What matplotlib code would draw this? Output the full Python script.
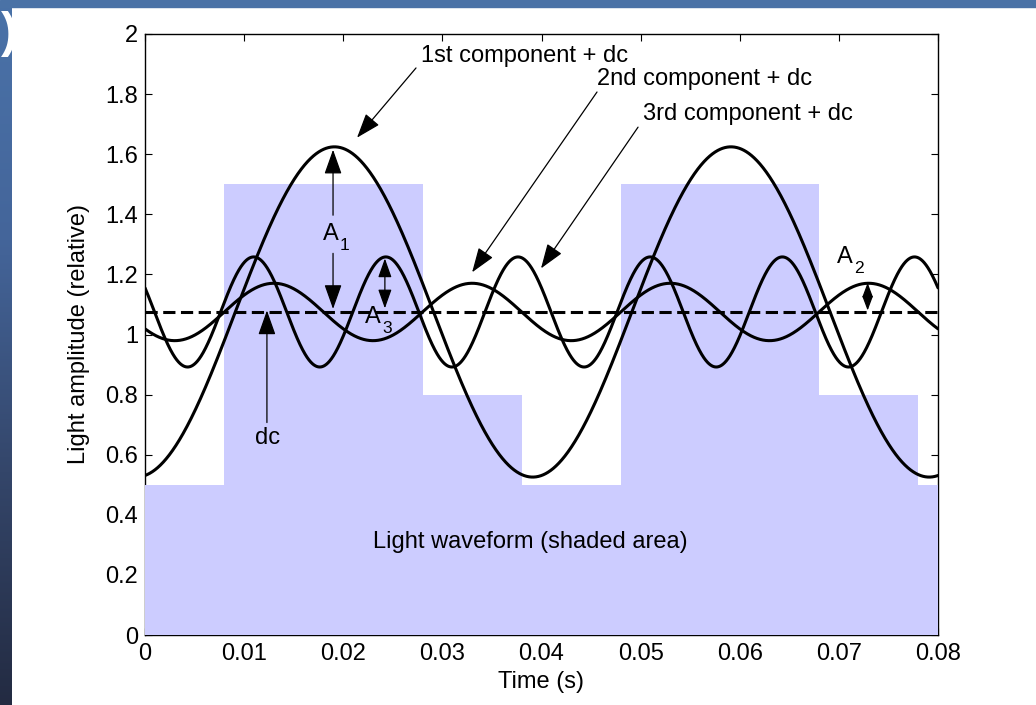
import numpy as np
import matplotlib
matplotlib.use("Agg")
import matplotlib.pyplot as plt
from matplotlib.patches import Rectangle
from matplotlib.colors import LinearSegmentedColormap

plt.rcParams['font.family'] = ['Liberation Sans', 'DejaVu Sans']

# ---------------- data ----------------
edges = [0.0, 0.008, 0.028, 0.038, 0.048, 0.068, 0.078, 0.08]   # step edges of light waveform (s)
levels = [0.5, 1.5, 0.8, 0.5, 1.5, 0.8, 0.5]                    # light level on each step
period = 0.04                                                    # fundamental period (s)
harmonics = [1, 2, 3]
xticks = [0, 0.01, 0.02, 0.03, 0.04, 0.05, 0.06, 0.07, 0.08]
xtick_labels = ['0', '0.01', '0.02', '0.03', '0.04', '0.05', '0.06', '0.07', '0.08']
yticks = [0, 0.2, 0.4, 0.6, 0.8, 1.0, 1.2, 1.4, 1.6, 1.8, 2.0]
ytick_labels = ['0', '0.2', '0.4', '0.6', '0.8', '1', '1.2', '1.4', '1.6', '1.8', '2']

# ---------------- Fourier components of the waveform ----------------
a = np.array(edges[:-1])
b = np.array(edges[1:])
lv = np.array(levels)
span = edges[-1] - edges[0]
dc = np.sum(lv * (b - a)) / span
t = np.linspace(edges[0], edges[-1], 3000)
components = []
for n in harmonics:
    w = 2 * np.pi * n / period
    c = np.sum(lv * (np.exp(-1j * w * a) - np.exp(-1j * w * b)) / (1j * w)) / span
    components.append(dc + 2 * np.real(c * np.exp(1j * w * t)))

# ---------------- figure ----------------
W, H = 1036, 705
fig = plt.figure(figsize=(W / 100, H / 100), dpi=100)
fig.patch.set_facecolor('white')

# slide background pieces
fig.patches.append(Rectangle((0, 1 - 7 / H), 1, 7 / H, transform=fig.transFigure,
                             color='#4a72a6', zorder=0))
bg = fig.add_axes([0, 0, 12 / W, 1 - 7 / H])
cmap = LinearSegmentedColormap.from_list('g', ['#4a72a8', '#44659a', '#34466a', '#232b42'])
bg.imshow(np.linspace(0, 1, 256)[:, None], aspect='auto', cmap=cmap, extent=[0, 1, 0, 1])
bg.set_axis_off()
fig.text(0.5 / W, 1 - 34 / H, ')', ha='left', va='center', fontsize=36,
         fontweight='bold', color='white')

ax = fig.add_axes([145 / W, 70 / H, 793 / W, 601 / H])
fs = 17

ax.fill_between(edges, levels + [levels[-1]], step='post', color='#ccccff', lw=0, zorder=2.6)
for comp in components:
    ax.plot(t, comp, color='black', lw=2.2, zorder=3, solid_capstyle='round')
ax.plot([edges[0], edges[-1]], [dc, dc], color='black', lw=2.2, dashes=(4, 1.8), zorder=3)

ax.set_xlim(edges[0], edges[-1])
ax.set_ylim(0, 2)
ax.set_xticks(xticks)
ax.set_xticklabels(xtick_labels)
ax.set_yticks(yticks)
ax.set_yticklabels(ytick_labels)
ax.tick_params(direction='in', length=5, width=0.8, top=True, right=True,
               labelsize=fs, color='black')
ax.tick_params(axis='y', pad=5)
ax.tick_params(axis='x', pad=6)
for s in ax.spines.values():
    s.set_linewidth(1.0)
ax.set_xlabel('Time (s)', fontsize=fs, labelpad=4)
ax.set_ylabel('Light amplitude (relative)', fontsize=fs, labelpad=11)


def arrow(tail, tip, both=False, ms=17, hl=0.9, hw=0.32):
    style = ('<|-|>' if both else '-|>') + f',head_length={hl},head_width={hw}'
    ax.annotate('', xy=tip, xytext=tail,
                arrowprops=dict(arrowstyle=style, color='black', lw=0.9,
                                shrinkA=0, shrinkB=0, mutation_scale=ms),
                zorder=4)


def sublabel(x, y, main, sub):
    ax.text(x, y, main, fontsize=fs, ha='left', va='baseline', zorder=5)
    ax.annotate(sub, xy=(x, y), xytext=(12.3, -7.2), textcoords='offset points',
                fontsize=fs * 0.74, ha='left', va='baseline', zorder=5)


# component labels with arrows
ax.text(0.02784, 1.907, '1st component + dc', fontsize=fs, ha='left', va='baseline', zorder=5)
arrow((0.02734, 1.887), (0.02139, 1.655))
ax.text(0.04560, 1.830, '2nd component + dc', fontsize=fs, ha='left', va='baseline', zorder=5)
arrow((0.04560, 1.807), (0.03300, 1.207))
ax.text(0.05025, 1.713, '3rd component + dc', fontsize=fs, ha='left', va='baseline', zorder=5)
arrow((0.04974, 1.690), (0.03995, 1.220))

# amplitudes
sublabel(0.01796, 1.313, 'A', '1')
arrow((0.01897, 1.397), (0.01897, 1.615))
arrow((0.01897, 1.270), (0.01897, 1.085))
sublabel(0.02220, 1.037, 'A', '3')
arrow((0.02420, 1.253), (0.02420, 1.087), both=True, ms=13)
sublabel(0.06980, 1.237, 'A', '2')
arrow((0.07290, 1.172), (0.07290, 1.080), both=True, ms=11, hl=0.8, hw=0.3)

# dc label
ax.text(0.01236, 0.637, 'dc', fontsize=fs, ha='center', va='baseline', zorder=5)
arrow((0.01230, 0.707), (0.01230, 1.080))

ax.text(0.0389, 0.31, 'Light waveform (shaded area)', fontsize=fs, ha='center', va='center', zorder=5)

fig.savefig('out.png', dpi=100, facecolor=fig.get_facecolor())
